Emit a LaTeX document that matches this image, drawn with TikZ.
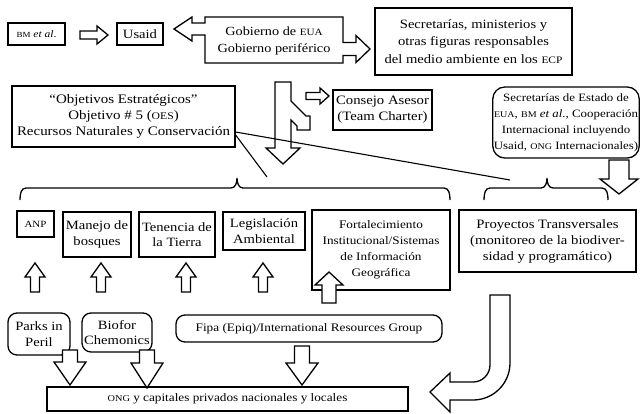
\documentclass[tikz,border=0pt]{standalone}
\usepackage{fontspec}
\setmainfont{Liberation Serif}[FakeStretch=1.15]
\usetikzlibrary{calc}
\newcommand\fz[2]{\fontsize{#1}{#2}\selectfont}
\makeatletter
\newcommand\sca[1]{{\fontsize{\fpeval{0.78*\f@size}}{\f@baselineskip}\selectfont #1}}
\makeatother
% hollow block arrow: x, y (tail centre), angle, length, half shaft, half head, head length
\newcommand\BArr[7]{%
  \draw[blk, shift={(#1,#2)}, rotate=#3] (0,-#5) -- ({#4-#7},-#5) -- ({#4-#7},-#6) -- (#4,0)
    -- ({#4-#7},#6) -- ({#4-#7},#5) -- (0,#5) -- cycle;}
\tikzset{
  box/.style={draw, line width=1.3pt, align=center, inner sep=1pt, font=\fz{12.7}{15.5}},
  rbox/.style={box, rounded corners=9pt},
  blk/.style={draw, line width=1.3pt, fill=white, line join=miter},
  lnk/.style={line width=1.1pt},
  brc/.style={line width=1.3pt}
}
\begin{document}
\begin{tikzpicture}[x=1pt,y=-1pt]
\useasboundingbox (0,0) rectangle (642,413);

% ---- row 1
\node[box, minimum width=57, minimum height=22, font=\fz{10}{10}] (bm) at (36.5,34) {\sca{BM} \textit{et al}.};
\BArr{80}{35}{0}{28}{4}{9}{11}
\node[box, minimum width=46, minimum height=22] (usaid) at (140,34) {Usaid};

\draw[blk] (205,17) -- (343,17) -- (343,42.5) -- (356,42.5) -- (356,35.5) -- (370,49) -- (356,62.5)
  -- (356,55.5) -- (343,55.5) -- (343,63) -- (205,63) -- (205,35) -- (192,35) -- (192,41)
  -- (174,29) -- (192,17) -- (192,23) -- (205,23) -- cycle;
\node[align=center, font=\fz{12.4}{17}] (gob) at (274,41) {Gobierno de \sca{EUA}\\Gobierno periférico};

\node[box, minimum width=197, minimum height=67, font=\fz{12.7}{17.5}] (sec) at (473.5,41.5)
  {Secretarías, ministerios y\\otras figuras responsables\\del medio ambiente en los \sca{ECP}};

% ---- central arrow
\draw[blk] (275,82) -- (291,82) -- (291,101) -- (306,116) -- (310,116) -- (310,130) -- (297,130)
  -- (297,126) -- (291,120) -- (291,148) -- (300,148) -- (283,164) -- (266,148) -- (275,148) -- cycle;
\BArr{306}{96}{0}{23}{3.5}{8}{9}

\node[box, minimum width=223, minimum height=61, font=\fz{13}{16}] (obj) at (123.5,116.5)
  {“Objetivos Estratégicos”\\Objetivo \# 5 (\sca{OES})\\Recursos Naturales y Conservación};
\node[box, minimum width=99, minimum height=40, font=\fz{12.8}{16}] (cons) at (382.5,110) {Consejo Asesor\\(Team Charter)};
\node[rbox, rounded corners=12pt, minimum width=146, minimum height=71, font=\fz{11.2}{16}] (coop) at (566,122.5)
  {Secretarías de Estado de\\\sca{EUA}, \sca{BM} \textit{et al.}, Cooperación\\Internacional incluyendo\\Usaid, \sca{ONG} Internacionales)};
\BArr{619}{160}{-90}{34}{10}{19}{15}

% ---- braces
\draw[brc] (20,200) to[out=90,in=180] (26,188) -- (231,188) to[out=0,in=-90] (237,178)
  to[out=-90,in=180] (243,188) -- (444,188) to[out=0,in=90] (450,200);
\draw[brc] (484,200) to[out=90,in=180] (490,188) -- (541,188) to[out=0,in=-90] (547,178)
  to[out=-90,in=180] (553,188) -- (602,188) to[out=0,in=90] (608,200);
\coordinate (l1) at (510,180);
\coordinate (l2) at (267,177);
\draw[lnk] (obj.east |- 0,132) -- (l1);
\draw[lnk] (obj.east |- 0,135) -- (l2);

% ---- row of themes
\node[box, minimum width=37, minimum height=26, font=\fz{9.5}{10}] (anp) at (35.5,224) {ANP};
\node[box, minimum width=68, minimum height=45] (man) at (97,234.5) {Manejo de\\bosques};
\node[box, minimum width=76, minimum height=45] (ten) at (177,234.5) {Tenencia de\\la Tierra};
\node[box, minimum width=82, minimum height=38] (leg) at (264,231) {Legislación\\Ambiental};
\node[box, minimum width=138, minimum height=80, font=\fz{11.5}{16}] (fort) at (381,250)
  {Fortalecimiento\\Institucional/Sistemas\\de Información\\Geográfica};
\node[box, minimum width=177, minimum height=62, font=\fz{12.8}{16}] (proy) at (547.5,241)
  {Proyectos Transversales\\(monitoreo de la biodiver-\\sidad y programático)};

\BArr{35}{292}{90}{29}{4.5}{10}{14}
\BArr{101}{292}{90}{29}{4.5}{10}{14}
\BArr{186}{292}{90}{29}{4.5}{10}{14}
\BArr{263}{292}{90}{29}{4.5}{10}{14}
\BArr{329}{303}{90}{31}{7}{14}{13}

% ---- bottom row
\node[rbox, minimum width=62, minimum height=42] (parks) at (39,334) {Parks in\\Peril};
\node[rbox, minimum width=70, minimum height=39] (bio) at (117,332.5) {Biofor\\Chemonics};
\node[rbox, minimum width=266, minimum height=27, font=\fz{11.5}{12}] (fipa) at (309,328.5)
  {Fipa (Epiq)/International Resources Group};
\BArr{70}{350}{-90}{35}{7.5}{16}{23}
\BArr{147}{350}{-90}{38}{7.5}{16}{25}
\BArr{302}{346}{-90}{39}{7.5}{16}{22}

\node[box, minimum width=361, minimum height=24, font=\fz{11.5}{12}] (ong) at (227.5,399)
  {\sca{ONG} y capitales privados nacionales y locales};

% ---- U-turn arrow
\draw[blk] (490,295) -- (490,365) .. controls (490,374.4) and (482.4,382) .. (473,382) -- (450,382)
  -- (450,373) -- (430,392) -- (450,412) -- (450,400) -- (473,400)
  .. controls (493.4,400) and (510,383.4) .. (510,363) -- (510,295) -- cycle;
\end{tikzpicture}
\end{document}
